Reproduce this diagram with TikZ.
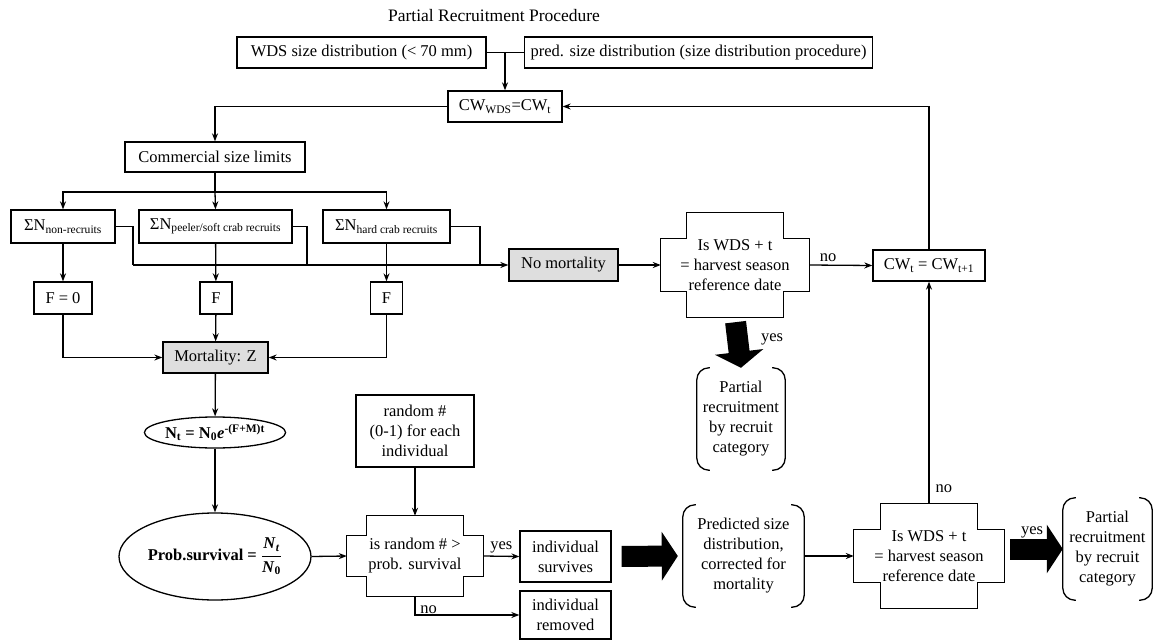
\documentclass[tikz,border=0pt]{standalone}
\usepackage{fontspec}
\setmainfont{Liberation Serif}
\usepackage{amsmath}
\usetikzlibrary{arrows.meta,calc,shapes.geometric}
\newcommand\crossbox[3]{%
 \draw[shapeline] ([xshift=#2]#1.north west) -- ([xshift=-#2]#1.north east) -- ([xshift=-#2,yshift=-#3]#1.north east) -- ([yshift=-#3]#1.north east) -- ([yshift=#3]#1.south east) -- ([xshift=-#2,yshift=#3]#1.south east) -- ([xshift=-#2]#1.south east) -- ([xshift=#2]#1.south west) -- ([xshift=#2,yshift=#3]#1.south west) -- ([yshift=#3]#1.south west) -- ([yshift=-#3]#1.north west) -- ([xshift=#2,yshift=-#3]#1.north west) -- cycle;}
\newcommand\parenbox[1]{%
 \draw[shapeline,rounded corners=12pt] ([xshift=13pt]#1.north west) -- (#1.north west) -- (#1.south west) -- ([xshift=13pt]#1.south west);
 \draw[shapeline,rounded corners=12pt] ([xshift=-13pt]#1.north east) -- (#1.north east) -- (#1.south east) -- ([xshift=-13pt]#1.south east);}
\begin{document}
\begin{tikzpicture}[x=1pt,y=-1pt,
  every node/.style={font=\fontsize{16.5}{20}\selectfont, inner sep=0pt, align=center},
  shapeline/.style={line width=1.3pt, black},
  box/.style={draw, line width=1.3pt, minimum height=31pt},
  graybox/.style={box, fill=black!13},
  dec/.style={draw=none, minimum width=#1},
  plain/.style={draw=none},
  ell/.style={ellipse, draw, line width=1.3pt},
  conn/.style={line width=1.3pt},
  arr/.style={conn, -{Stealth[length=8pt,width=6pt]}},
  bigarrow/.style={line width=21pt, -{Triangle[length=16pt,width=48pt]}},
  lbl/.style={font=\fontsize{16.5}{20}\selectfont}
]
\useasboundingbox (0,0) rectangle (1157,642);
\node[font=\fontsize{17.5}{20}\selectfont] (title) at (494,16) {Partial Recruitment Procedure};
\node[box, minimum width=249pt] (wds) at (361.5,52.5) {WDS size distribution (< 70 mm)};
\node[box, anchor=west, inner xsep=6pt] (pred) at (524,52.5) {pred. size distribution (size distribution procedure)};
\node[box, minimum width=114pt] (cwwds) at (505,106.5) {CW\textsubscript{WDS}=CW\textsubscript{t}};
\node[box, minimum width=180pt, minimum height=30pt] (comm) at (215,157) {Commercial size limits};
\node[box, minimum width=104pt, minimum height=33pt] (s1) at (63,226.5) {ΣN\textsubscript{non-recruits}};
\node[box, minimum width=153pt, minimum height=33pt] (s2) at (215.5,226.5) {ΣN\textsubscript{peeler/soft crab recruits}};
\node[box, minimum width=127pt, minimum height=33pt] (s3) at (386.5,226.5) {ΣN\textsubscript{hard crab recruits}};
\node[box, minimum width=58pt, minimum height=32pt] (f1) at (63,298) {F = 0};
\node[box, minimum width=32pt, minimum height=32pt] (f2) at (216,298) {F};
\node[box, minimum width=32pt, minimum height=32pt] (f3) at (386.5,298) {F};
\node[graybox, minimum width=105pt] (mort) at (215.5,357.5) {Mortality: Z};
\node[ell, minimum width=128pt, minimum height=31pt] (nt) at (215,432.5) {\textbf{N\textsubscript{t} = N\textsubscript{0}\textit{e}\textsuperscript{-(F+M)t}}};
\node[ell, minimum width=192pt, minimum height=87pt] (prob) at (215,556.5) {\textbf{Prob.survival =}~$\dfrac{\textbf{\textit{N}}_{\textbf{\textit{t}}}}{\textbf{\textit{N}}_{\textbf{0}}}$};
\node[box, minimum width=118pt, minimum height=72pt] (rand) at (415,431) {random \#\\(0-1) for each\\individual};
\node[dec=136pt, minimum height=80pt] (d3) at (415,556) {is random \# >\\prob. survival};
\crossbox{d3}{20pt}{20pt}
\node[box, minimum width=91pt, minimum height=51pt] (surv) at (565.5,556.5) {individual\\survives};
\node[box, minimum width=91pt, minimum height=48pt] (rem) at (565.5,615) {individual\\removed};
\node[plain, minimum width=121pt, minimum height=102pt] (predm) at (743.5,556) {Predicted size\\distribution,\\corrected for\\mortality};
\parenbox{predm}
\node[dec=150pt, minimum height=104pt] (d2) at (929,556) {Is WDS + t\\= harvest season\\reference date};
\crossbox{d2}{27pt}{26pt}
\node[plain, minimum width=89pt, minimum height=102pt] (p2) at (1107.5,549) {Partial\\recruitment\\by recruit\\category};
\parenbox{p2}
\node[graybox, minimum width=109pt, minimum height=32pt] (nomort) at (563.5,265) {No mortality};
\node[dec=148pt, minimum height=104pt] (d1) at (735,265) {Is WDS + t\\= harvest season\\reference date};
\crossbox{d1}{26pt}{26pt}
\node[box, minimum width=112pt] (cwt) at (929,265.5) {CW\textsubscript{t} = CW\textsubscript{t+1}};
\node[plain, minimum width=88pt, minimum height=102pt] (p1) at (741,419) {Partial\\recruitment\\by recruit\\category};
\parenbox{p1}
% coordinates
\coordinate (j1) at (505,52.5);
\coordinate (j2) at (215,192);
\coordinate (m1) at (133,265);
\coordinate (m2) at (307,265);
\coordinate (m3) at (480,265);
% connectors
\draw[conn] (wds.east) -- (pred.west);
\draw[arr] (j1) -- (cwwds.north);
\draw[arr] (cwwds.west) -| (comm.north);
\draw[conn] (comm.south) -- (j2);
\draw[arr] (j2) -| (s1.north);
\draw[arr] (j2) -- (s2.north);
\draw[arr] (j2) -| (s3.north);
\draw[conn] (s1.east) -| (m1);
\draw[conn] (s2.east) -| (m2);
\draw[conn] (s3.east) -| (m3);
\draw[arr] (m1) -- (nomort.west);
\draw[arr] (s1) -- (f1);
\draw[arr] (s2) -- (f2);
\draw[arr] (s3) -- (f3);
\draw[arr] (f1.south) |- (mort.west);
\draw[arr] (f2) -- (mort);
\draw[arr] (f3.south) |- (mort.east);
\draw[arr] (mort) -- (nt);
\draw[arr] (nt) -- (prob);
\draw[arr] (prob.east) -- (d3.west);
\draw[arr] (rand) -- (d3.north);
\draw[arr] (d3.east) -- node[lbl, above=3pt] {yes} (surv.west);
\draw[arr] (d3.south) |- node[lbl, pos=0.565, above=1pt] {no} (rem.west);
\draw[bigarrow, shorten <=10pt, shorten >=5pt] (surv.east) -- (predm.west);
\draw[arr] (predm.east) -- (d2.west);
\draw[bigarrow, shorten <=6pt] (d2.east |- p2.west) -- (p2.west);
\draw[arr] (d2.north) -- node[lbl, pos=0.07, right=6pt] {no} (cwt.south);
\draw[arr] (nomort.east) -- (d1.west);
\draw[arr] (d1.east) -- node[lbl, above=3pt, pos=0.3] {no} (cwt.west);
\draw[arr] (cwt.north) |- (cwwds.east);
\draw[bigarrow, shorten <=5pt] (d1.south) -- (p1.north);
\node[lbl] (yes1) at (772,339) {yes};
\node[lbl] (yes2) at (1032,532) {yes};
\end{tikzpicture}
\end{document}
